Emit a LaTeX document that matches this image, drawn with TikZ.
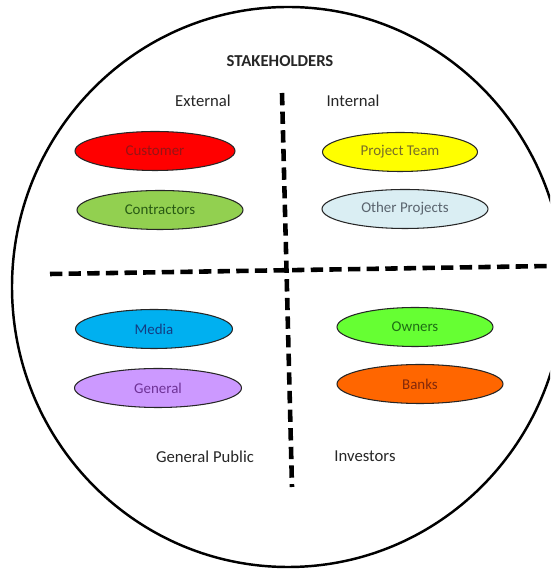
\documentclass[tikz,border=0pt]{standalone}
\usepackage{fontspec}
\setmainfont{Carlito}
\usetikzlibrary{shapes.geometric}
\definecolor{custfill}{RGB}{255,0,0}\definecolor{custtext}{RGB}{150,20,20}
\definecolor{contfill}{RGB}{146,208,80}\definecolor{conttext}{RGB}{40,90,20}
\definecolor{teamfill}{RGB}{255,255,0}\definecolor{teamtext}{RGB}{120,110,40}
\definecolor{othfill}{RGB}{218,238,243}\definecolor{othtext}{RGB}{90,100,110}
\definecolor{medfill}{RGB}{0,176,240}\definecolor{medtext}{RGB}{20,60,130}
\definecolor{genfill}{RGB}{204,153,255}\definecolor{gentext}{RGB}{110,50,150}
\definecolor{ownfill}{RGB}{102,255,51}\definecolor{owntext}{RGB}{30,110,20}
\definecolor{bankfill}{RGB}{255,102,0}\definecolor{banktext}{RGB}{130,40,10}
\tikzset{
  party/.style n args={3}{ellipse, draw=black!85, line width=0.6pt, fill=#1, text=#2,
    minimum width=#3cm, minimum height=0.78cm, inner sep=0pt,
    font=\fontsize{8.5}{10}\selectfont},
  heading/.style={font=\fontsize{9.5}{11}\selectfont, text=black!85},
  divider/.style={line width=2.6pt, dash pattern=on 7pt off 3.6pt}
}
\begin{document}
\begin{tikzpicture}
\useasboundingbox (0,0) rectangle (11,11.38);
\clip (0,0) rectangle (11,11.38);
\draw[line width=1.4pt] (5.76,5.64) ellipse (5.52 and 5.6);
\coordinate (vtop) at (5.64,9.52);
\coordinate (vbot) at (5.84,1.64);
\coordinate (hleft) at (1.0,5.90);
\coordinate (hright) at (11.0,6.06);
\draw[divider] (vtop) -- (vbot);
\draw[divider] (hleft) -- (hright);
\node[heading, font=\fontsize{9.5}{11}\selectfont\bfseries] (title) at (5.6,10.16) {STAKEHOLDERS};
\node[heading] (ext) at (4.06,9.36) {External};
\node[heading] (int) at (7.06,9.36) {Internal};
\node[heading] (pub) at (4.10,2.24) {General Public};
\node[heading] (inv) at (7.30,2.26) {Investors};
\node[party={custfill}{custtext}{3.2}] (customer) at (3.10,8.36) {Customer};
\node[party={contfill}{conttext}{3.32}] (contractors) at (3.20,7.18) {Contractors};
\node[party={teamfill}{teamtext}{3.1}] (team) at (8.00,8.34) {Project Team};
\node[party={othfill}{othtext}{3.32}] (other) at (8.10,7.20) {Other Projects};
\node[party={medfill}{medtext}{3.14}] (media) at (3.08,4.80) {Media};
\node[party={genfill}{gentext}{3.34}] (general) at (3.16,3.62) {General};
\node[party={ownfill}{owntext}{3.12}] (owners) at (8.30,4.84) {Owners};
\node[party={bankfill}{banktext}{3.32}] (banks) at (8.40,3.70) {Banks};
\end{tikzpicture}
\end{document}
